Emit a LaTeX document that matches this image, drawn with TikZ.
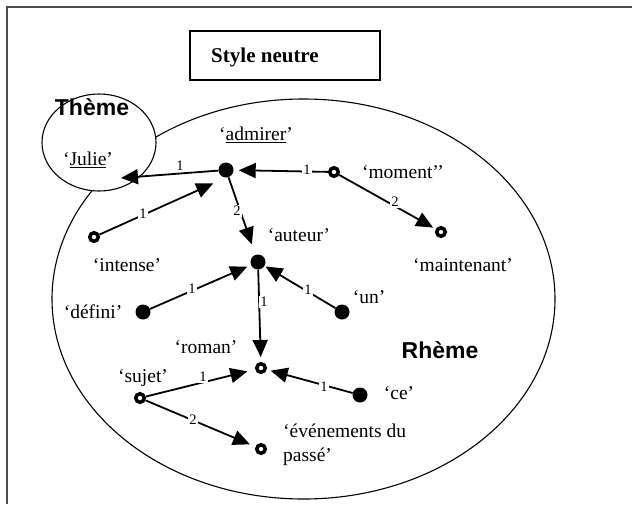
\documentclass[tikz,border=0pt]{standalone}
\usepackage{fontspec}
\setmainfont{Liberation Serif}
\newfontfamily\arialf{Liberation Sans}
\usetikzlibrary{arrows.meta,shapes.geometric}
\begin{document}
\begin{tikzpicture}[x=1pt,y=-1pt,
  dotf/.style={circle,fill=black,inner sep=0pt,minimum size=15pt},
  ring/.style={circle,draw=black,line width=3.5pt,fill=white,inner sep=0pt,minimum size=8.5pt},
  lbl/.style={font=\fontsize{19.5}{24}\selectfont,inner sep=0pt},
  num/.style={font=\fontsize{14.5}{16}\selectfont,fill=white,inner sep=1.5pt},
  arr/.style={line width=1.8pt,-{Triangle[length=17pt,width=15pt]}},
  big/.style={font=\arialf\bfseries\fontsize{23}{24}\selectfont,inner sep=0pt},
  zone/.style={draw=black,line width=1.1pt,ellipse,inner sep=0pt}]
\useasboundingbox (0,0) rectangle (632,504);
\draw[line width=2pt,draw=black!70] (7,504) -- (7,7) -- (632,7);
% style box
\node[draw=black,line width=1.1pt,minimum width=190pt,minimum height=49pt,inner sep=0pt] (stylebox) at (285,55.5) {};
\node[font=\bfseries\fontsize{21}{22}\selectfont,inner sep=0pt] (styletxt) at (265,57) {Style neutre};
% zones
\node[zone,minimum width=503pt,minimum height=400pt] (rheme) at (303.5,299) {};
\node[zone,fill=white,minimum width=114pt,minimum height=97pt] (theme) at (99,142.5) {};
\node[big] (themetxt) at (92,107) {Thème};
\node[big] (rhemetxt) at (440,350) {Rhème};
% semantic nodes
\node[dotf] (admirer) at (226,170) {};
\node[ring] (moment) at (334,172) {};
\node[ring] (maintenant) at (441,232) {};
\node[ring] (intense) at (94,237) {};
\node[dotf] (auteur) at (258,262) {};
\node[dotf] (defini) at (143,312) {};
\node[dotf] (un) at (342,312) {};
\node[ring] (roman) at (261,368) {};
\node[ring] (sujet) at (140,398) {};
\node[dotf] (ce) at (360,395) {};
\node[ring] (evenements) at (261,449) {};
\coordinate (julieend) at (121,178);
% labels
\node[lbl] (ladmirer) at (256,135) {‘\underline{admirer}’};
\node[lbl] (ljulie) at (88,160) {‘\underline{Julie}’};
\node[lbl] (lmoment) at (403,172) {‘moment’’};
\node[lbl] (lmaintenant) at (463,265) {‘maintenant’};
\node[lbl] (lintense) at (127,265) {‘intense’};
\node[lbl] (lauteur) at (299,235) {‘auteur’};
\node[lbl] (ldefini) at (93,312) {‘défini’};
\node[lbl] (lun) at (369,297) {‘un’};
\node[lbl] (lroman) at (206,347) {‘roman’};
\node[lbl] (lsujet) at (143,378) {‘sujet’};
\node[lbl] (lce) at (399,393) {‘ce’};
\node[lbl,anchor=west,align=left] (levenements) at (283,445) {‘événements du\\passé’};
% edges
\draw[arr] (admirer) -- (julieend);
\draw[arr,shorten >=5pt] (moment) -- (admirer);
\draw[arr,shorten >=3pt] (moment) -- (maintenant);
\draw[arr,shorten >=14pt] (intense) -- (admirer.south);
\draw[arr,shorten >=11pt] (admirer) -- (auteur);
\draw[arr,shorten >=4pt] (defini) -- (auteur);
\draw[arr,shorten >=1pt] (un) -- (auteur);
\draw[arr,shorten >=5pt] (auteur) -- (roman);
\draw[arr,shorten >=8pt] (sujet) -- (roman);
\draw[arr,shorten >=4pt] (ce) -- (roman);
\draw[arr,shorten >=6pt] (sujet) -- (evenements);
% edge numbers
\node[num] (n1) at (180,166) {1};
\node[num] (n2) at (307,170) {1};
\node[num] (n3) at (395,202) {2};
\node[num] (n4) at (143,214) {1};
\node[num] (n5) at (237,211) {2};
\node[num] (n6) at (192,289) {1};
\node[num] (n7) at (308,290) {1};
\node[num] (n8) at (264,302) {1};
\node[num] (n9) at (203,377) {1};
\node[num] (n10) at (324,387) {1};
\node[num] (n11) at (193,420) {2};
\end{tikzpicture}
\end{document}
